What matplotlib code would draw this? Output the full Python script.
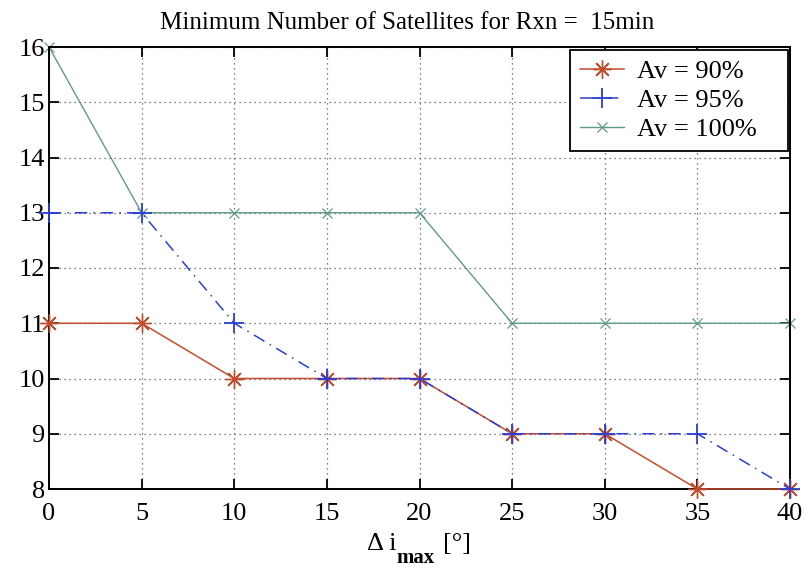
import matplotlib
matplotlib.use("Agg")
import matplotlib.pyplot as plt

plt.rcParams['font.family'] = ['Liberation Serif', 'DejaVu Serif']

delta_i = [0, 5, 10, 15, 20, 25, 30, 35, 40]
av90 = [11, 11, 10, 10, 10, 9, 9, 8, 8]
av95 = [13, 13, 11, 10, 10, 9, 9, 9, 8]
av100 = [16, 13, 13, 13, 13, 11, 11, 11, 11]
x_ticks = [0, 5, 10, 15, 20, 25, 30, 35, 40]
y_ticks = [8, 9, 10, 11, 12, 13, 14, 15, 16]

W, H = 809, 569
fig = plt.figure(figsize=(W / 100, H / 100), dpi=100)
ax = fig.add_axes([49 / W, (H - 489) / H, 741 / W, 442 / H])

ax.plot(delta_i, av90, color='#c24e2e', lw=1.1, ls='-', marker=(8, 2, 0),
        ms=13, mew=1.0, label='Av = 90%', clip_on=False, zorder=3)
ax.plot(delta_i, av95, color='#2c3ed2', lw=1.1, ls=(0, (8, 4, 1, 4)), marker='+',
        ms=15, mew=1.3, label='Av = 95%', clip_on=False, zorder=4)
ax.plot(delta_i, av100, color='#62998a', lw=1.0, ls='-', marker='x',
        ms=7, mew=0.9, label='Av = 100%', clip_on=False, zorder=2)

ax.set_xlim(0, 40)
ax.set_ylim(8, 16)
ax.set_xticks(x_ticks)
ax.set_yticks(y_ticks)
ax.tick_params(direction='in', length=7, width=1.3, labelsize=19,
               top=True, right=True)
ax.tick_params(axis='x', pad=10)
ax.tick_params(axis='y', pad=3)
ax.grid(True, ls=(0, (1, 3)), color='#555555', lw=0.9)
for s in ax.spines.values():
    s.set_linewidth(1.4)

ax.set_title('Minimum Number of Satellites for Rxn =  15min', fontsize=18,
             x=(407 - 49) / 741, pad=13)

# x-axis label with a lowered bold subscript
fig.text(367 / W, (H - 550) / H, 'Δ i', fontsize=19, va='baseline', ha='left')
fig.text(396 / W, (H - 563) / H, 'max', fontsize=15, fontweight='bold',
         va='baseline', ha='left')
fig.text(443 / W, (H - 550) / H, '[°]', fontsize=19, va='baseline', ha='left')

leg_x0 = (570 - 49) / 741
leg_w = (788 - 570) / 741
leg_top = (489 - 50) / 442
leg = ax.legend(loc='upper left', bbox_to_anchor=(leg_x0, leg_top - 0.3, leg_w, 0.3),
                mode='expand', fontsize=19, frameon=True, fancybox=False,
                edgecolor='black', framealpha=1, handlelength=1.67,
                handletextpad=0.5, numpoints=1,
                borderaxespad=0.0, labelspacing=0.2, borderpad=0.38)
leg.get_frame().set_linewidth(1.3)

fig.savefig('out.png', dpi=100)
